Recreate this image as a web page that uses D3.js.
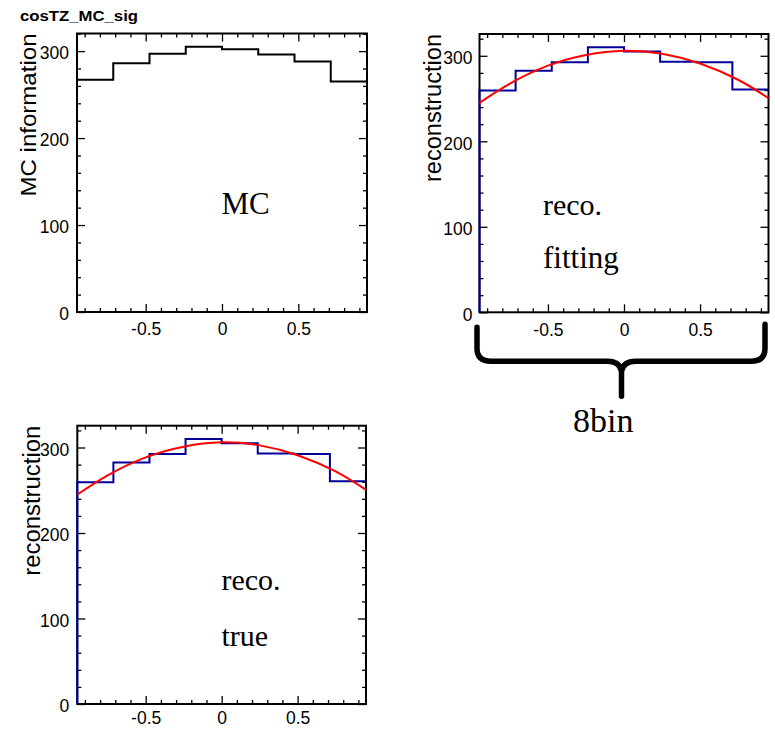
<!DOCTYPE html>
<html>
<head>
<meta charset="utf-8">
<script src="https://cdn.jsdelivr.net/npm/d3@7"></script>
<style>
body { margin: 0; background: #fff; }
svg { display: block; }
</style>
</head>
<body>
<script>
// bin edges of cosTZ, 8 bins
var binEdges = [-0.95, -0.7125, -0.475, -0.2375, 0, 0.2375, 0.475, 0.7125, 0.95];
var mcCounts = [267, 286, 297, 305, 302, 296, 288, 265];
var recoCounts = [259.5, 282.5, 292.5, 310, 305, 293, 292.5, 260.5];
// red fit curve
var fitX = [-0.95, -0.75, -0.5, -0.25, 0, 0.25, 0.5, 0.75, 0.95];
var fitY = [245, 267.5, 288.5, 301, 306, 302.5, 291, 272, 250.5];
var xTicks = [-0.5, 0, 0.5];
var xMinor = [-0.9, -0.8, -0.7, -0.6, -0.4, -0.3, -0.2, -0.1, 0.1, 0.2, 0.3, 0.4, 0.6, 0.7, 0.8, 0.9];
var yTicks = [0, 100, 200, 300];
var yMinor = [20, 40, 60, 80, 120, 140, 160, 180, 220, 240, 260, 280, 320];

var svg = d3.select("body").append("svg")
    .attr("width", 775)
    .attr("height", 729);

svg.append("text")
    .attr("x", 20).attr("y", 21)
    .attr("font-family", "Liberation Sans, Arial, sans-serif")
    .attr("font-weight", "bold")
    .attr("font-size", 14)
    .attr("textLength", 118)
    .attr("lengthAdjust", "spacingAndGlyphs")
    .text("cosTZ_MC_sig");

function styleAxis(sel) {
    sel.select(".domain").remove();
    sel.selectAll("line").attr("stroke", "#000").attr("stroke-width", 1.3);
    sel.attr("font-family", "Liberation Sans, Arial, sans-serif").attr("font-size", 17.5);
    sel.selectAll("text").attr("fill", "#000");
}

function drawPanel(p) {
    var g = svg.append("g").attr("transform", "translate(" + p.left + "," + p.top + ")");
    var x = d3.scaleLinear().domain([binEdges[0], binEdges[binEdges.length - 1]]).range([0, p.w]);
    var ymax = 1.05 * d3.max(p.counts);
    var y = d3.scaleLinear().domain([0, ymax]).range([p.h, 0]);
    var fmt = function(d) { return String(d); };

    // frame
    g.append("rect").attr("width", p.w).attr("height", p.h)
        .attr("fill", "none").attr("stroke", "#000").attr("stroke-width", 2);

    // major ticks
    g.append("g").attr("transform", "translate(0," + p.h + ")")
        .call(d3.axisBottom(x).tickValues(xTicks).tickSize(-8).tickSizeOuter(0).tickPadding(p.xpad).tickFormat(fmt))
        .call(styleAxis);
    g.append("g")
        .call(d3.axisTop(x).tickValues(xTicks).tickSize(-8).tickSizeOuter(0).tickFormat(""))
        .call(styleAxis);
    var yl = g.append("g")
        .call(d3.axisLeft(y).tickValues(yTicks).tickSize(-8).tickSizeOuter(0).tickPadding(p.ypad).tickFormat(fmt))
        .call(styleAxis);
    yl.selectAll("text").attr("dy", "0.45em");
    g.append("g").attr("transform", "translate(" + p.w + ",0)")
        .call(d3.axisRight(y).tickValues(yTicks).tickSize(-8).tickSizeOuter(0).tickFormat(""))
        .call(styleAxis);

    // minor ticks
    var ym = yMinor.filter(function(v) { return v <= ymax; });
    g.append("g").attr("transform", "translate(0," + p.h + ")")
        .call(d3.axisBottom(x).tickValues(xMinor).tickSize(-4).tickSizeOuter(0).tickFormat(""))
        .call(styleAxis);
    g.append("g")
        .call(d3.axisTop(x).tickValues(xMinor).tickSize(-4).tickSizeOuter(0).tickFormat(""))
        .call(styleAxis);
    g.append("g")
        .call(d3.axisLeft(y).tickValues(ym).tickSize(-4).tickSizeOuter(0).tickFormat(""))
        .call(styleAxis);
    g.append("g").attr("transform", "translate(" + p.w + ",0)")
        .call(d3.axisRight(y).tickValues(ym).tickSize(-4).tickSizeOuter(0).tickFormat(""))
        .call(styleAxis);

    // histogram
    var pts = [[binEdges[0], 0]];
    p.counts.forEach(function(c, i) { pts.push([binEdges[i], c]); });
    pts.push([binEdges[binEdges.length - 1], p.counts[p.counts.length - 1]]);
    var step = d3.line()
        .x(function(d) { return x(d[0]); })
        .y(function(d) { return y(d[1]); })
        .curve(d3.curveStepAfter);
    g.append("path").attr("d", step(pts))
        .attr("fill", "none").attr("stroke", p.color).attr("stroke-width", 2);

    // fit
    if (p.fit) {
        var fl = d3.line()
            .x(function(d, i) { return x(fitX[i]); })
            .y(function(d) { return y(d); })
            .curve(d3.curveNatural);
        g.append("path").attr("d", fl(fitY))
            .attr("fill", "none").attr("stroke", "#ff0000").attr("stroke-width", 2);
    }

    // y title
    g.append("text")
        .attr("transform", "translate(" + (p.titleX - p.left) + ",0) rotate(-90)")
        .attr("text-anchor", "end")
        .attr("font-family", "Liberation Sans, Arial, sans-serif")
        .attr("font-size", p.titleSize)
        .attr("textLength", p.titleLen)
        .attr("lengthAdjust", "spacingAndGlyphs")
        .text(p.title);

    // labels inside
    p.notes.forEach(function(n) {
        g.append("text")
            .attr("x", n[1] - p.left).attr("y", n[2] - p.top)
            .attr("font-family", "Liberation Serif, Times New Roman, serif")
            .attr("font-size", n[3])
            .text(n[0]);
    });

    return { x: x, y: y };
}

drawPanel({
    left: 77, top: 33.5, w: 290, h: 278.5, ypad: 8, xpad: 11,
    counts: mcCounts, color: "#000", fit: false,
    title: "MC information", titleX: 36, titleSize: 22, titleLen: 163,
    notes: [["MC", 221.5, 213.5, 31]]
});

var p2 = {
    left: 479.5, top: 34, w: 289, h: 278.3, ypad: 7, xpad: 11,
    counts: recoCounts, color: "#000099", fit: true,
    title: "reconstruction", titleX: 441, titleSize: 23, titleLen: 148,
    notes: [["reco.", 543, 215, 30], ["fitting", 543, 268, 31]]
};
var s2 = drawPanel(p2);

drawPanel({
    left: 77.3, top: 425.7, w: 288.7, h: 278.3, ypad: 8, xpad: 8,
    counts: recoCounts, color: "#000099", fit: true,
    title: "reconstruction", titleX: 40, titleSize: 23, titleLen: 150,
    notes: [["reco.", 221.5, 590, 30], ["true", 221.5, 646, 30]]
});

// curly brace below the fitted panel
var xl = p2.left + s2.x(binEdges[0]) - 2.5;
var xr = p2.left + s2.x(binEdges[binEdges.length - 1]) - 3.5;
var xc = p2.left + s2.x(0) - 2.5;
var yb = p2.top + p2.h;
var br = d3.path();
br.moveTo(xl, yb + 15);
br.lineTo(xl, yb + 36);
br.quadraticCurveTo(xl, yb + 49, xl + 14, yb + 49);
br.lineTo(xc - 14, yb + 49);
br.quadraticCurveTo(xc - 2, yb + 49, xc, yb + 59);
br.quadraticCurveTo(xc + 2, yb + 49, xc + 14, yb + 49);
br.lineTo(xr - 14, yb + 49);
br.quadraticCurveTo(xr, yb + 49, xr, yb + 36);
br.lineTo(xr, yb + 12);
br.moveTo(xc, yb + 57);
br.lineTo(xc, yb + 84);
svg.append("path").attr("d", br.toString())
    .attr("fill", "none").attr("stroke", "#000").attr("stroke-width", 5.5)
    .attr("stroke-linecap", "round").attr("stroke-linejoin", "round");

svg.append("text")
    .attr("x", 573).attr("y", 431.5)
    .attr("font-family", "Liberation Serif, Times New Roman, serif")
    .attr("font-size", 34)
    .text("8bin");
</script>
</body>
</html>
